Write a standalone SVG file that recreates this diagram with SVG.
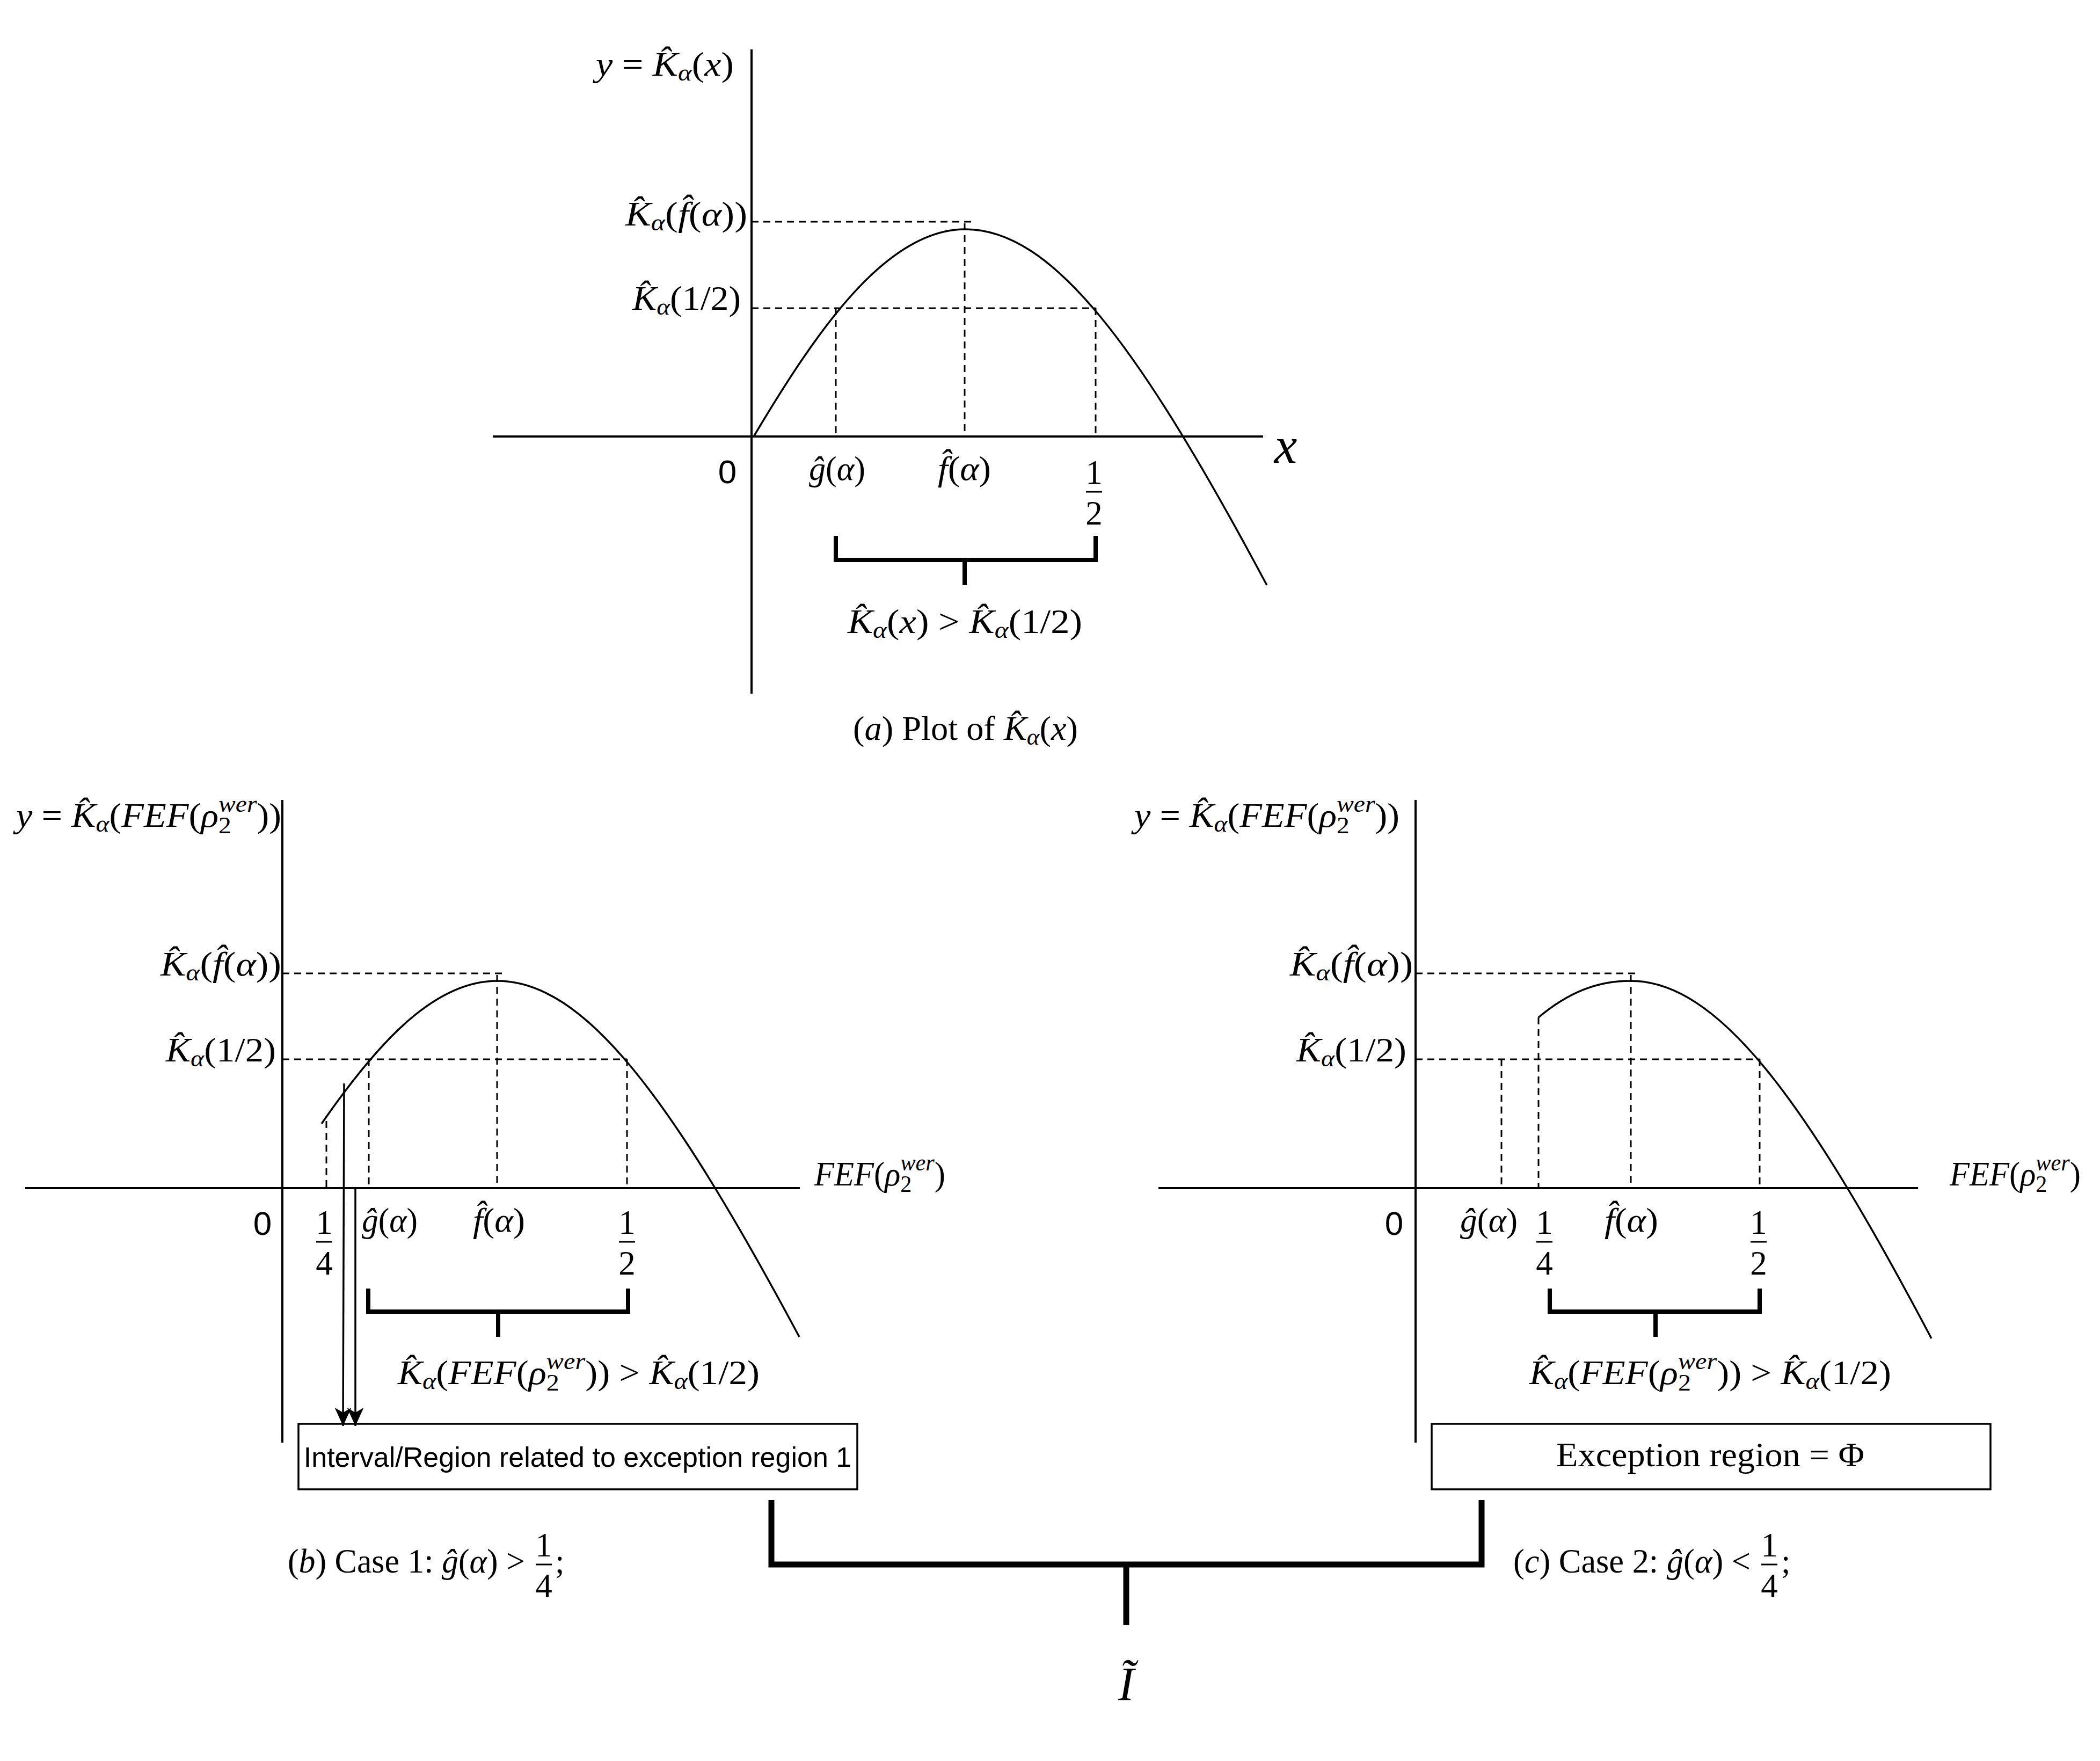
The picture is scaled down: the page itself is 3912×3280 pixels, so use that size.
<svg xmlns="http://www.w3.org/2000/svg" width="3912" height="3280" viewBox="0 0 3912 3280">
<style>
.ax{stroke:#000;stroke-width:4;fill:none}
.cv{stroke:#000;stroke-width:3.5;fill:none}
.ds{stroke:#000;stroke-width:3;fill:none;stroke-dasharray:13 9}
.br{stroke:#000;stroke-width:8;fill:none}
.bb{stroke:#000;stroke-width:11;fill:none}
.fb{stroke:#000;stroke-width:3}
.t{font-family:"Liberation Serif","Times New Roman",serif;font-size:63px;fill:#000}
.i{font-style:italic}
.s{font-size:44px}
.big{font-size:96px}
.res{font-size:88px}
.sans{font-family:"Liberation Sans",Arial,sans-serif;fill:#000}
.zero{font-size:62px}
.btxt{font-size:52px}
.box{fill:#fff;stroke:#000;stroke-width:3.5}
</style>
<defs>
<marker id="arr" viewBox="0 0 34 31" refX="34" refY="15.5" markerWidth="34" markerHeight="31" markerUnits="userSpaceOnUse" orient="auto">
<path d="M34,15.5 L0,0 L9,15.5 L0,31 Z" fill="#000"/>
</marker>
</defs>
<rect x="0" y="0" width="3912" height="3280" fill="#fff"/>

<g id="plot-a">
<g transform="translate(1400,813)">
<path class="ax" d="M0,-721 V479 M-482,0 H953"/>
<path class="ds" d="M0,-400 H414 M0,-239 H641 M157,-239 V0 M397,-397 V0 M641,-239 V0"/>
<path class="cv" d="M4,0 C120,-195 250,-386 398,-386 C560,-386 720,-173 960,277"/>
<path class="br" d="M157,185 V230 H641 V185 M397,230 V277"/>
</g>
<text class="t" x="1110" y="141" textLength="257" lengthAdjust="spacingAndGlyphs"><tspan class="i">y</tspan> = <tspan class="i">K&#x302;</tspan><tspan class="i s" dy="9">α</tspan><tspan dy="-9">(</tspan><tspan class="i">x</tspan>)</text>
<text class="t" x="1165" y="420" textLength="227" lengthAdjust="spacingAndGlyphs"><tspan class="i">K&#x302;</tspan><tspan class="i s" dy="9">α</tspan><tspan dy="-9">(</tspan><tspan class="i">f&#x302;</tspan>(<tspan class="i">α</tspan>))</text>
<text class="t" x="1178" y="577" textLength="202" lengthAdjust="spacingAndGlyphs"><tspan class="i">K&#x302;</tspan><tspan class="i s" dy="9">α</tspan><tspan dy="-9">(1/2)</tspan></text>
<text class="sans zero" x="1355" y="900" text-anchor="middle">0</text>
<text class="t" x="1507" y="894" textLength="105" lengthAdjust="spacingAndGlyphs"><tspan class="i">ĝ</tspan>(<tspan class="i">α</tspan>)</text>
<text class="t" x="1747" y="894" textLength="99" lengthAdjust="spacingAndGlyphs"><tspan class="i">f&#x302;</tspan>(<tspan class="i">α</tspan>)</text>
<text class="t" x="2038" y="901" text-anchor="middle">1</text>
<line class="fb" x1="2023" y1="916" x2="2053" y2="916"/>
<text class="t" x="2038" y="977" text-anchor="middle">2</text>
<text class="t i big" x="2395" y="862" text-anchor="middle">x</text>
<text class="t" x="1579" y="1179" textLength="437" lengthAdjust="spacingAndGlyphs"><tspan class="i">K&#x302;</tspan><tspan class="i s" dy="9">α</tspan><tspan dy="-9">(</tspan><tspan class="i">x</tspan>) &gt; <tspan class="i">K&#x302;</tspan><tspan class="i s" dy="9">α</tspan><tspan dy="-9">(1/2)</tspan></text>
<text class="t" x="1589" y="1378" textLength="419" lengthAdjust="spacingAndGlyphs">(<tspan class="i">a</tspan>) Plot of <tspan class="i">K&#x302;</tspan><tspan class="i s" dy="9">α</tspan><tspan dy="-9">(</tspan><tspan class="i">x</tspan>)</text>
</g>

<g id="plot-b">
<g transform="translate(526,2213)">
<path class="ax" d="M0,-723 V474 M-479,0 H964"/>
<path class="ds" d="M0,-400 H418 M0,-240 H642 M82,-125 V0 M161,-240 V0 M400,-397 V0 M642,-240 V0"/>
<path class="cv" d="M73,-120 C172.7,-263.8 279.6,-386 400,-386 C562,-386 722,-173 963,277"/>
<path class="br" d="M160,187 V230 H644 V187 M402,230 V277"/>
</g>
<text class="t" x="30" y="1540" textLength="494" lengthAdjust="spacingAndGlyphs"><tspan class="i">y</tspan> = <tspan class="i">K&#x302;</tspan><tspan class="i s" dy="9">α</tspan><tspan dy="-9">(</tspan><tspan class="i">FEF</tspan>(<tspan class="i">ρ</tspan><tspan class="s" dy="12">2</tspan><tspan class="i s" dx="-22" dy="-40">wer</tspan><tspan dy="28">))</tspan></text>
<text class="t" x="299" y="1817" textLength="225" lengthAdjust="spacingAndGlyphs"><tspan class="i">K&#x302;</tspan><tspan class="i s" dy="9">α</tspan><tspan dy="-9">(</tspan><tspan class="i">f&#x302;</tspan>(<tspan class="i">α</tspan>))</text>
<text class="t" x="309" y="1977" textLength="205" lengthAdjust="spacingAndGlyphs"><tspan class="i">K&#x302;</tspan><tspan class="i s" dy="9">α</tspan><tspan dy="-9">(1/2)</tspan></text>
<text class="t" x="1517" y="2208" textLength="244" lengthAdjust="spacingAndGlyphs"><tspan class="i">FEF</tspan>(<tspan class="i">ρ</tspan><tspan class="s" dy="12">2</tspan><tspan class="i s" dx="-22" dy="-40">wer</tspan><tspan dy="28">)</tspan></text>
<text class="sans zero" x="489" y="2300" text-anchor="middle">0</text>
<text class="t" x="604" y="2298" text-anchor="middle">1</text>
<line class="fb" x1="589" y1="2313" x2="619" y2="2313"/>
<text class="t" x="604" y="2374" text-anchor="middle">4</text>
<text class="t" x="674" y="2294" textLength="104" lengthAdjust="spacingAndGlyphs"><tspan class="i">ĝ</tspan>(<tspan class="i">α</tspan>)</text>
<text class="t" x="881" y="2294" textLength="97" lengthAdjust="spacingAndGlyphs"><tspan class="i">f&#x302;</tspan>(<tspan class="i">α</tspan>)</text>
<text class="t" x="1168" y="2298" text-anchor="middle">1</text>
<line class="fb" x1="1153" y1="2313" x2="1183" y2="2313"/>
<text class="t" x="1168" y="2374" text-anchor="middle">2</text>
<text class="t" x="741" y="2578" textLength="674" lengthAdjust="spacingAndGlyphs"><tspan class="i">K&#x302;</tspan><tspan class="i s" dy="9">α</tspan><tspan dy="-9">(</tspan><tspan class="i">FEF</tspan>(<tspan class="i">ρ</tspan><tspan class="s" dy="12">2</tspan><tspan class="i s" dx="-22" dy="-40">wer</tspan><tspan dy="28">)) &gt; </tspan><tspan class="i">K&#x302;</tspan><tspan class="i s" dy="9">α</tspan><tspan dy="-9">(1/2)</tspan></text>
<text class="t" x="536" y="2929" textLength="442" lengthAdjust="spacingAndGlyphs">(<tspan class="i">b</tspan>) Case 1: <tspan class="i">ĝ</tspan>(<tspan class="i">α</tspan>) &gt;</text>
<text class="t" x="1013" y="2899" text-anchor="middle">1</text>
<line class="fb" x1="998" y1="2914" x2="1028" y2="2914"/>
<text class="t" x="1013" y="2975" text-anchor="middle">4</text>
<text class="t" x="1034" y="2929">;</text>
</g>

<g id="plot-c">
<g transform="translate(2637,2213)">
<path class="ax" d="M0,-723 V474 M-479,0 H936"/>
<path class="ds" d="M0,-400 H416 M0,-240 H641 M160,-240 V0 M229,-318 V0 M401,-397 V0 M641,-240 V0"/>
<path class="cv" d="M229,-318 C285,-365 339,-386 400,-386 C562,-386 722,-173 961,280"/>
<path class="br" d="M250,187 V230 H641 V187 M447,230 V277"/>
</g>
<text class="t" x="2113" y="1540" textLength="494" lengthAdjust="spacingAndGlyphs"><tspan class="i">y</tspan> = <tspan class="i">K&#x302;</tspan><tspan class="i s" dy="9">α</tspan><tspan dy="-9">(</tspan><tspan class="i">FEF</tspan>(<tspan class="i">ρ</tspan><tspan class="s" dy="12">2</tspan><tspan class="i s" dx="-22" dy="-40">wer</tspan><tspan dy="28">))</tspan></text>
<text class="t" x="2403" y="1817" textLength="229" lengthAdjust="spacingAndGlyphs"><tspan class="i">K&#x302;</tspan><tspan class="i s" dy="9">α</tspan><tspan dy="-9">(</tspan><tspan class="i">f&#x302;</tspan>(<tspan class="i">α</tspan>))</text>
<text class="t" x="2415" y="1977" textLength="205" lengthAdjust="spacingAndGlyphs"><tspan class="i">K&#x302;</tspan><tspan class="i s" dy="9">α</tspan><tspan dy="-9">(1/2)</tspan></text>
<text class="t" x="3632" y="2208" textLength="244" lengthAdjust="spacingAndGlyphs"><tspan class="i">FEF</tspan>(<tspan class="i">ρ</tspan><tspan class="s" dy="12">2</tspan><tspan class="i s" dx="-22" dy="-40">wer</tspan><tspan dy="28">)</tspan></text>
<text class="sans zero" x="2597" y="2300" text-anchor="middle">0</text>
<text class="t" x="2720" y="2294" textLength="107" lengthAdjust="spacingAndGlyphs"><tspan class="i">ĝ</tspan>(<tspan class="i">α</tspan>)</text>
<text class="t" x="2877" y="2298" text-anchor="middle">1</text>
<line class="fb" x1="2862" y1="2313" x2="2892" y2="2313"/>
<text class="t" x="2877" y="2374" text-anchor="middle">4</text>
<text class="t" x="2989" y="2294" textLength="100" lengthAdjust="spacingAndGlyphs"><tspan class="i">f&#x302;</tspan>(<tspan class="i">α</tspan>)</text>
<text class="t" x="3276" y="2298" text-anchor="middle">1</text>
<line class="fb" x1="3261" y1="2313" x2="3291" y2="2313"/>
<text class="t" x="3276" y="2374" text-anchor="middle">2</text>
<text class="t" x="2849" y="2578" textLength="674" lengthAdjust="spacingAndGlyphs"><tspan class="i">K&#x302;</tspan><tspan class="i s" dy="9">α</tspan><tspan dy="-9">(</tspan><tspan class="i">FEF</tspan>(<tspan class="i">ρ</tspan><tspan class="s" dy="12">2</tspan><tspan class="i s" dx="-22" dy="-40">wer</tspan><tspan dy="28">)) &gt; </tspan><tspan class="i">K&#x302;</tspan><tspan class="i s" dy="9">α</tspan><tspan dy="-9">(1/2)</tspan></text>
<text class="t" x="2819" y="2929" textLength="442" lengthAdjust="spacingAndGlyphs">(<tspan class="i">c</tspan>) Case 2: <tspan class="i">ĝ</tspan>(<tspan class="i">α</tspan>) &lt;</text>
<text class="t" x="3296" y="2899" text-anchor="middle">1</text>
<line class="fb" x1="3281" y1="2914" x2="3311" y2="2914"/>
<text class="t" x="3296" y="2975" text-anchor="middle">4</text>
<text class="t" x="3318" y="2929">;</text>
</g>

<g id="box-b">
<rect class="box" x="556" y="2652" width="1041" height="122"/>
<text class="sans btxt" x="1076" y="2732" text-anchor="middle">Interval/Region related to exception region 1</text>
</g>

<g id="box-c">
<rect class="box" x="2667" y="2652" width="1041" height="122"/>
<text class="t" x="2899" y="2731" textLength="574" lengthAdjust="spacingAndGlyphs">Exception region = Φ</text>
</g>

<g id="result">
<text class="t i res" x="2098" y="3166" text-anchor="middle">Ĩ</text>
</g>

<g id="connectors">
<path class="cv" d="M641,2018 L639,2656" marker-end="url(#arr)"/>
<path class="cv" d="M662,2213 L662,2656" marker-end="url(#arr)"/>
<path class="bb" d="M1437,2794 V2914 H2760 V2794 M2098,2914 V3027"/>
</g>
</svg>
